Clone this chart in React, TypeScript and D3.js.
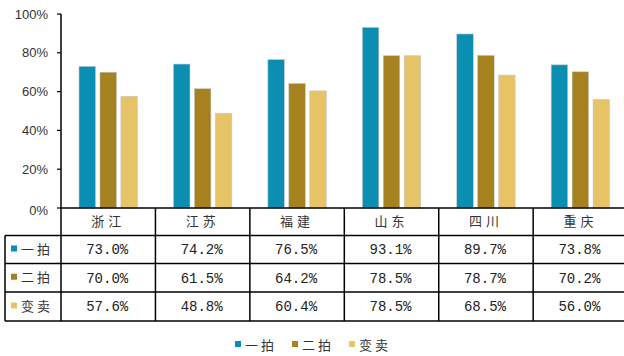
import React from "react";
import * as d3 from "d3";

const categories = ["浙江", "江苏", "福建", "山东", "四川", "重庆"];
const seriesNames = ["一拍", "二拍", "变卖"];
const first = [73.0, 74.2, 76.5, 93.1, 89.7, 73.8];
const second = [70.0, 61.5, 64.2, 78.5, 78.7, 70.2];
const sold = [57.6, 48.8, 60.4, 78.5, 68.5, 56.0];
const yTicks = [0, 20, 40, 60, 80, 100];
const colors = ["#0A8EB1", "#A6811F", "#E6C366"];

export default function App() {
  const W = 624, H = 356;
  const left = 61, right = 627.6;
  const y0 = 208, y1 = 14;
  const series = [first, second, sold];
  const x = d3.scaleBand<string>().domain(categories).range([left, right]);
  const inner = d3.scaleBand<string>().domain(seriesNames).range([0, x.bandwidth()]).paddingInner(0.21).paddingOuter(0.86);
  const y = d3.scaleLinear().domain([0, 100]).range([y0, y1]);
  const rowY = [208, 235.5, 263.5, 292, 321];
  const cjk = "'Noto Sans CJK SC', sans-serif";
  const mono = "'Liberation Mono', 'DejaVu Sans Mono', monospace";
  return (
    <svg width={W} height={H} style={{ position: "absolute", left: 0, top: 0, background: "#fff" }}>
      {/* bars */}
      {series.map((vals, si) =>
        categories.map((c, ci) => (
          <rect key={`${si}-${ci}`} x={(x(c) as number) + (inner(seriesNames[si]) as number)} y={y(vals[ci])}
            width={inner.bandwidth()} height={y0 - y(vals[ci])} fill={colors[si]} stroke="#c8c8c8" strokeWidth={0.6} />
        ))
      )}
      {/* y axis */}
      <line x1={left} x2={left} y1={y1} y2={y0} stroke="#000" strokeWidth={1.5} />
      {yTicks.map(t => (
        <g key={t}>
          <line x1={left - 4} x2={left} y1={y(t)} y2={y(t)} stroke="#000" strokeWidth={1.2} />
          <text x={48} y={y(t) + (t === 0 ? 2 : 0)} dy="0.35em" textAnchor="end" fontSize={13} fill="#333" fontFamily="Arial, 'Liberation Sans', sans-serif">{t}%</text>
        </g>
      ))}
      {/* table lines */}
      <line x1={left} x2={right} y1={rowY[0]} y2={rowY[0]} stroke="#000" strokeWidth={1.5} />
      {rowY.slice(1).map((ry, i) => (
        <line key={i} x1={5} x2={right} y1={ry} y2={ry} stroke="#000" strokeWidth={1.5} />
      ))}
      <line x1={5} x2={5} y1={rowY[1]} y2={rowY[4]} stroke="#000" strokeWidth={1.5} />
      <line x1={left} x2={left} y1={rowY[0]} y2={rowY[4]} stroke="#000" strokeWidth={1.5} />
      {categories.slice(1).map(c => (
        <line key={c} x1={x(c) as number} x2={x(c) as number} y1={rowY[0]} y2={rowY[4]} stroke="#000" strokeWidth={1.5} />
      ))}
      {categories.map(c => (
        <text key={c} x={(x(c) as number) + x.bandwidth() / 2} y={(rowY[0] + rowY[1]) / 2} dy="0.35em" textAnchor="middle"
          fontSize={13} fill="#333" fontFamily={cjk} letterSpacing={4}>{c}</text>
      ))}
      {series.map((vals, si) => (
        <g key={si}>
          <rect x={11} y={(rowY[si + 1] + rowY[si + 2]) / 2 - 4} width={6} height={6} fill={colors[si]} />
          <text x={21} y={(rowY[si + 1] + rowY[si + 2]) / 2} dy="0.35em" fontSize={13} fill="#333" fontFamily={cjk} letterSpacing={3}>{seriesNames[si]}</text>
          {vals.map((v, ci) => (
            <text key={ci} x={(x(categories[ci]) as number) + x.bandwidth() / 2 - 1} y={(rowY[si + 1] + rowY[si + 2]) / 2} dy="0.35em"
              textAnchor="middle" fontSize={14} fill="#222" fontFamily={mono}>{v.toFixed(1)}%</text>
          ))}
        </g>
      ))}
      {/* legend */}
      {seriesNames.map((n, i) => (
        <g key={n} transform={`translate(${235 + i * 57},345)`}>
          <rect x={0} y={-4} width={6} height={6} fill={colors[i]} />
          <text x={10} y={0} dy="0.35em" fontSize={13} fill="#333" fontFamily={cjk} letterSpacing={3}>{n}</text>
        </g>
      ))}
    </svg>
  );
}
